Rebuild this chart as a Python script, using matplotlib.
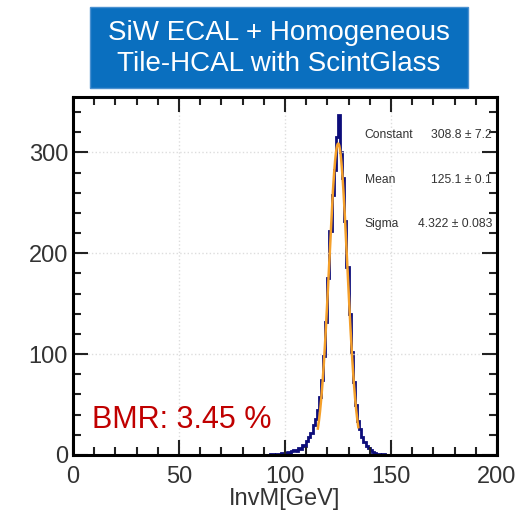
import numpy as np
import matplotlib.pyplot as plt
from matplotlib.patches import Rectangle
from matplotlib.ticker import MultipleLocator

plt.rcParams['font.family'] = ['Liberation Sans', 'DejaVu Sans']

# histogram, 1 GeV bins (left edges) and counts
bin_left = list(range(92, 148))
counts = [0, 1, 1, 0, 1, 1, 2, 1, 2, 3, 2, 4, 5, 4, 7, 6, 10, 9, 14, 18,
          22, 30, 36, 45, 58, 74, 98, 132, 176, 222, 258, 283, 315, 337, 300, 275,
          232, 186, 140, 102, 72, 50, 34, 26, 18, 13, 9, 7, 5, 3, 2, 1,
          1, 0, 1, 0]

# gaussian fit parameters from the stats box
fit_const, fit_mean, fit_sigma = 308.8, 125.1, 4.322
fit_range = (115.5, 134.6)

stat_names = ['Constant', 'Mean', 'Sigma']
stat_values = ['308.8 \u00b1 7.2', '125.1 \u00b1 0.1', '4.322 \u00b1 0.083']

fig = plt.figure(figsize=(5.15, 5.14), dpi=100)
ax = fig.add_axes([0.1417, 0.1148, 0.8233, 0.6965])

edges = np.array(bin_left + [bin_left[-1] + 1])
ax.stairs(counts, edges, color='#0c0c7a', linewidth=2)

xf = np.linspace(fit_range[0], fit_range[1], 300)
yf = fit_const * np.exp(-0.5 * ((xf - fit_mean) / fit_sigma) ** 2)
ax.plot(xf, yf, color='#f5a02a', linewidth=1.8)

ax.set_xlim(0, 200)
ax.set_ylim(0, 355)
ax.xaxis.set_major_locator(MultipleLocator(50))
ax.xaxis.set_minor_locator(MultipleLocator(10))
ax.yaxis.set_major_locator(MultipleLocator(100))
ax.yaxis.set_minor_locator(MultipleLocator(20))
ax.tick_params(which='both', direction='in', top=True, right=True,
               labelsize=17, labelcolor='#333333', width=1.5, color='#222222')
ax.tick_params(which='major', length=11)
ax.tick_params(which='minor', length=6)
ax.tick_params(axis='x', pad=8)
ax.grid(True, which='major', color='#dddddd', linestyle=':', linewidth=1)
for s in ax.spines.values():
    s.set_linewidth(2.2)
ax.set_xlabel('InvM[GeV]', fontsize=17, color='#333333', labelpad=0)

ys = [0.894, 0.768, 0.645]
for name, val, y in zip(stat_names, stat_values, ys):
    ax.text(0.688, y, name, transform=ax.transAxes, fontsize=8.7,
            color='#333333', va='center')
    ax.text(0.988, y, val, transform=ax.transAxes, fontsize=8.7,
            color='#333333', va='center', ha='right')

ax.text(9, 27, 'BMR: 3.45 %', fontsize=22, color='#c00000')

# title box
fig.patches.append(Rectangle((0.1748, 0.8288), 0.7339, 0.1576,
                             transform=fig.transFigure, facecolor='#0a6fbf',
                             edgecolor='#4a90d0', linewidth=1))
fig.text(0.5417, 0.9056, 'SiW ECAL + Homogeneous\nTile-HCAL with ScintGlass',
         ha='center', va='center', fontsize=20, color='white', linespacing=1.22)

fig.savefig('out.png', dpi=100)
